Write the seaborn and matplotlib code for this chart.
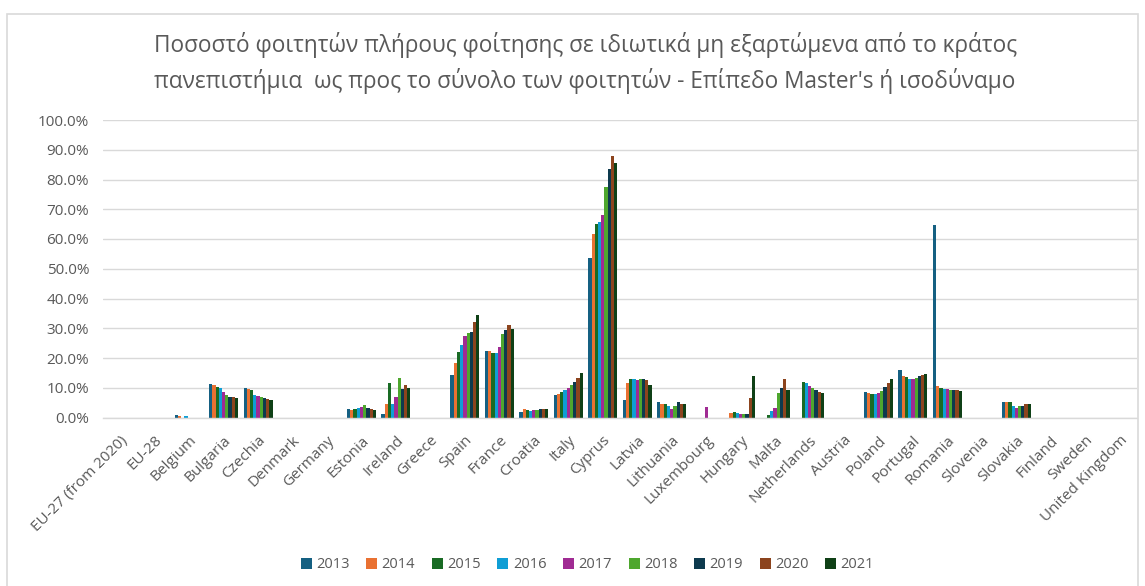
import numpy as np
import pandas as pd
import matplotlib
matplotlib.use("Agg")
import matplotlib.pyplot as plt
import seaborn as sns
from matplotlib.patches import Rectangle
from matplotlib.ticker import FuncFormatter

countries = ["EU-27 (from 2020)", "EU-28", "Belgium", "Bulgaria", "Czechia", "Denmark",
             "Germany", "Estonia", "Ireland", "Greece", "Spain", "France", "Croatia",
             "Italy", "Cyprus", "Latvia", "Lithuania", "Luxembourg", "Hungary", "Malta",
             "Netherlands", "Austria", "Poland", "Portugal", "Romania", "Slovenia",
             "Slovakia", "Finland", "Sweden", "United Kingdom"]
years = ["2013", "2014", "2015", "2016", "2017", "2018", "2019", "2020", "2021"]
n = np.nan
# values in percent, one list per country, order 2013..2021
values = {
    "EU-27 (from 2020)": [n, n, n, n, n, n, n, n, n],
    "EU-28": [n, n, n, n, n, n, n, n, n],
    "Belgium": [0.7, 0.6, n, 0.6, n, n, n, n, n],
    "Bulgaria": [11.1, 10.8, 10.4, 9.9, 8.5, 7.5, 6.9, 6.9, 6.5],
    "Czechia": [9.9, 9.6, 9.2, 7.5, 7.2, 6.9, 6.5, 6.2, 6.0],
    "Denmark": [n, n, n, n, n, n, n, n, n],
    "Germany": [n, n, n, n, n, n, n, n, n],
    "Estonia": [2.8, 2.5, 2.8, 3.1, 3.5, 4.2, 3.1, 2.8, 2.5],
    "Ireland": [1.1, 4.5, 11.5, 4.5, 7.0, 13.4, 9.6, 10.8, 9.9],
    "Greece": [n, n, n, n, n, n, n, n, n],
    "Spain": [14.3, 18.3, 22.1, 24.4, 27.3, 28.5, 28.9, 32.1, 34.3],
    "France": [22.2, 22.2, 21.8, 21.8, 23.7, 27.9, 29.4, 31.1, 29.9],
    "Croatia": [1.8, 2.8, 2.5, 2.1, 2.5, 2.5, 2.8, 2.8, 2.8],
    "Italy": [7.5, 7.9, 8.5, 9.2, 9.9, 10.8, 11.9, 13.4, 14.9],
    "Cyprus": [53.6, 61.6, 65.2, 65.7, 68.2, 77.5, 83.6, 88.0, 85.5],
    "Latvia": [6.0, 11.7, 12.9, 12.9, 12.6, 12.9, 12.9, 12.6, 10.8],
    "Lithuania": [5.2, 4.7, 4.4, 3.7, 3.0, 3.7, 5.2, 4.4, 4.7],
    "Luxembourg": [n, n, n, n, 3.5, n, n, n, n],
    "Hungary": [n, 1.5, 1.8, 1.5, 1.1, 1.1, 1.1, 6.4, 14.1],
    "Malta": [n, n, 0.8, 2.2, 3.2, 8.3, 10.0, 13.1, 9.3],
    "Netherlands": [n, n, 12.0, 11.5, 10.7, 10.0, 9.3, 8.6, 8.1],
    "Austria": [n, n, n, n, n, n, n, n, n],
    "Poland": [8.5, 8.2, 7.9, 7.9, 8.2, 8.9, 10.1, 11.5, 12.9],
    "Portugal": [15.8, 13.9, 13.6, 12.9, 12.9, 13.3, 13.9, 14.3, 14.6],
    "Romania": [64.7, 10.7, 9.9, 9.6, 9.6, 9.2, 9.2, 9.2, 8.9],
    "Slovenia": [n, n, n, n, n, n, n, n, n],
    "Slovakia": [5.2, 5.2, 5.2, 4.0, 3.1, 4.0, 4.0, 4.7, 4.7],
    "Finland": [n, n, n, n, n, n, n, n, n],
    "Sweden": [n, n, n, n, n, n, n, n, n],
    "United Kingdom": [n, n, n, n, n, n, n, n, n],
}
colors = ["#156082", "#E97132", "#196B24", "#0F9ED5", "#A02B93", "#4EA72E",
          "#0D3A4E", "#8C441E", "#0F4016"]

title = ("Ποσοστό φοιτητών πλήρους φοίτησης σε ιδιωτικά μη εξαρτώμενα από το κράτος\n"
         "πανεπιστήμια  ως προς το σύνολο των φοιτητών - Επίπεδο Master's ή ισοδύναμο")

rows = []
for c in countries:
    for y, v in zip(years, values[c]):
        rows.append({"country": c, "year": y, "value": v})
df = pd.DataFrame(rows)

sns.set_theme(style="white")
plt.rcParams["font.family"] = ["Open Sans", "DejaVu Sans"]
gray = "#595959"

fig = plt.figure(figsize=(11.45, 5.86), dpi=100)
ax = fig.add_axes([103 / 1145, 1 - 417.5 / 586, (1137 - 103) / 1145, (417.5 - 120) / 586])

sns.barplot(data=df, x="country", y="value", hue="year", order=countries,
            hue_order=years, palette=colors, width=0.84, saturation=1,
            errorbar=None, linewidth=0, ax=ax)

ax.set_ylim(0, 100)
ax.set_xlim(-0.5, len(countries) - 0.5)
ax.set_yticks(np.arange(0, 101, 10))
ax.yaxis.set_major_formatter(FuncFormatter(lambda v, p: f"{v:.1f}%"))
ax.grid(axis="y", color="#d9d9d9", linewidth=1)
ax.set_axisbelow(True)
for s in ["left", "right", "top"]:
    ax.spines[s].set_visible(False)
ax.spines["bottom"].set_color("#d9d9d9")
ax.spines["bottom"].set_linewidth(1)
ax.set_xlabel("")
ax.set_ylabel("")
ax.tick_params(axis="both", length=0, colors=gray)
ax.tick_params(axis="y", pad=10, labelsize=11)
ax.tick_params(axis="x", pad=11, labelsize=11)
for lab in ax.get_xticklabels():
    lab.set_rotation(45)
    lab.set_ha("right")
    lab.set_rotation_mode("anchor")

leg = ax.get_legend()
handles, labels = ax.get_legend_handles_labels()
if leg is not None:
    leg.remove()
fig.legend(handles, labels, loc="center", bbox_to_anchor=(0.513, 1 - 565 / 586),
           ncol=9, frameon=False, handlelength=0.75, handleheight=0.75,
           handletextpad=0.3, columnspacing=1.15, fontsize=10.5, labelcolor=gray)

fig.text(0.511, 1 - 63.5 / 586, title, ha="center", va="center", fontsize=16.3,
         color=gray, linespacing=1.5)

fig.patches.append(Rectangle((7 / 1145, -0.02), 1131 / 1145, (586 - 14) / 586 + 0.02,
                             transform=fig.transFigure, fill=False,
                             edgecolor="#d9d9d9", linewidth=1.2))

fig.savefig("out.png", dpi=100, facecolor="white")
